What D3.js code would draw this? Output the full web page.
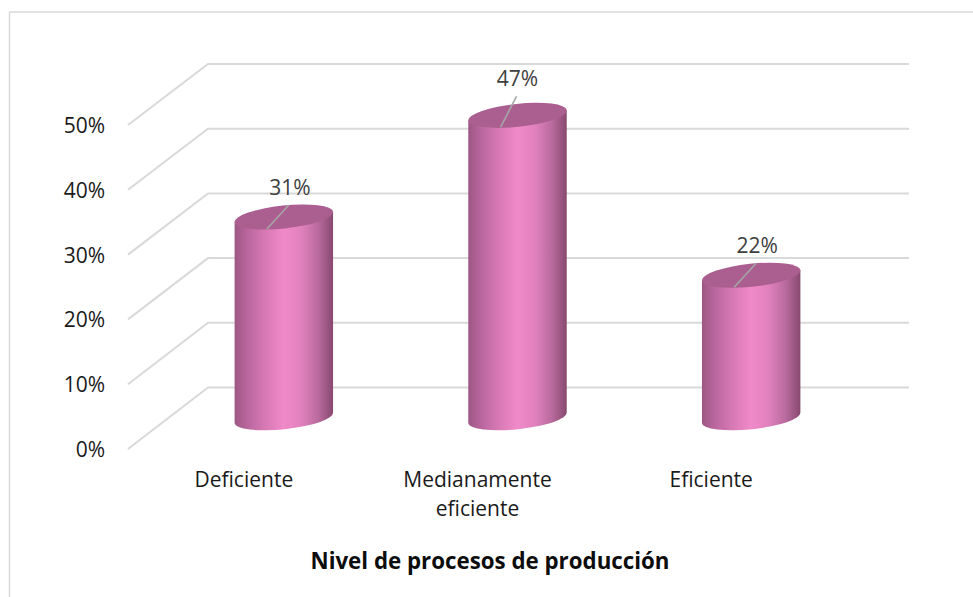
<!DOCTYPE html>
<html><head><meta charset="utf-8">
<script src="https://cdn.jsdelivr.net/npm/d3@7"></script>
<style>html,body{margin:0;padding:0;background:#fff}svg{display:block}</style>
</head><body><svg id="c" width="973" height="597"></svg>
<script>
const categories = ["Deficiente","Medianamente eficiente","Eficiente"];
const values = [31,46.7,22];
const ticks = [0,10,20,30,40,50];
const svg = d3.select("#c");
const font = "'Open Sans', 'Noto Sans', sans-serif";
const depthX = 80, frontX = 128, backRight = 909;
const yFront = d3.scaleLinear().domain([0,50]).range([449,125]);
const yBack = d3.scaleLinear().domain([0,50]).range([387.5,64]);
const yMid = v => (yFront(v)+yBack(v))/2 - 0.5;
const x = d3.scaleBand().domain(categories).range([167,868]).paddingInner(0.58).paddingOuter(0.29);
const defs = svg.append("defs");
const g = defs.append("linearGradient").attr("id","cyl");
[[0,"#9c5783"],[0.12,"#b7659c"],[0.3,"#d678b4"],[0.5,"#f08ac8"],[0.68,"#e081bd"],[0.85,"#b96a9e"],[1,"#87496f"]].forEach(s=>g.append("stop").attr("offset",s[0]).attr("stop-color",s[1]));
svg.append("path").attr("d","M9.5 597V12H973").attr("fill","none").attr("stroke","#d9d9d9").attr("stroke-width",1.5);
const grid = svg.append("g").attr("fill","none").attr("stroke","#d9d9d9").attr("stroke-width",2);
ticks.forEach(t=>grid.append("path").attr("d",`M${frontX} ${yFront(t)}L${frontX+depthX} ${yBack(t)}H${backRight}`));
svg.append("g").selectAll("text").data(ticks).join("text").attr("x",105).attr("y",t=>yFront(t)+8).attr("text-anchor","end").attr("font-family",font).attr("font-size",21).attr("fill","#1a1a1a").text(t=>t+"%");
const rx = 49.5, ry = 11.5, tilt = -6;
const bars = svg.append("g").selectAll("g").data(categories.map((c,i)=>({c,v:values[i]}))).join("g");
const cxOf = c => x(c)+x.bandwidth()/2;
const ell = (cx,cy)=>{const a=tilt*Math.PI/180,dx=rx*Math.cos(a),dy=rx*Math.sin(a);return {x0:cx-dx,y0:cy-dy,x1:cx+dx,y1:cy+dy};};
bars.append("path").attr("fill","url(#cyl)").attr("d",d=>{
 const cx=cxOf(d.c);const t=ell(cx,yMid(d.v)),b=ell(cx,yMid(0));
 return `M${t.x0} ${t.y0}L${b.x0} ${b.y0}A${rx} ${ry} ${tilt} 0 0 ${b.x1} ${b.y1}L${t.x1} ${t.y1}Z`;});
bars.append("ellipse").attr("fill","#ab5f90").attr("rx",rx).attr("ry",ry)
 .attr("transform",d=>`translate(${cxOf(d.c)},${yMid(d.v)}) rotate(${tilt})`);
const tall = d => d.v===d3.max(values);
bars.append("line").attr("stroke","#a6a6a6").attr("stroke-width",1.6)
 .attr("x1",d=>cxOf(d.c)-17).attr("y1",d=>yMid(d.v)+12)
 .attr("x2",d=>cxOf(d.c)+(tall(d)?-1:5)).attr("y2",d=>yMid(d.v)-(tall(d)?19:12));
bars.append("text").attr("x",d=>cxOf(d.c)+(tall(d)?0:6)).attr("y",d=>yMid(d.v)-(tall(d)?29:22)).attr("text-anchor","middle").attr("font-family",font).attr("font-size",21).attr("fill","#404040").text(d=>Math.round(d.v)+"%");
const catLabels = svg.append("g").selectAll("text").data(categories).join("text").attr("text-anchor","middle").attr("font-family",font).attr("font-size",21).attr("fill","#1a1a1a");
catLabels.each(function(c){
 c.split(" ").forEach((p,i)=>d3.select(this).append("tspan").attr("x",cxOf(c)-40).attr("y",487+i*29).text(p));
});
svg.append("text").attr("x",490).attr("y",569).attr("text-anchor","middle").attr("font-family",font).attr("font-size",22.3).attr("font-weight",700).attr("fill","#0d0d0d").text("Nivel de procesos de producción");
</script></body></html>
